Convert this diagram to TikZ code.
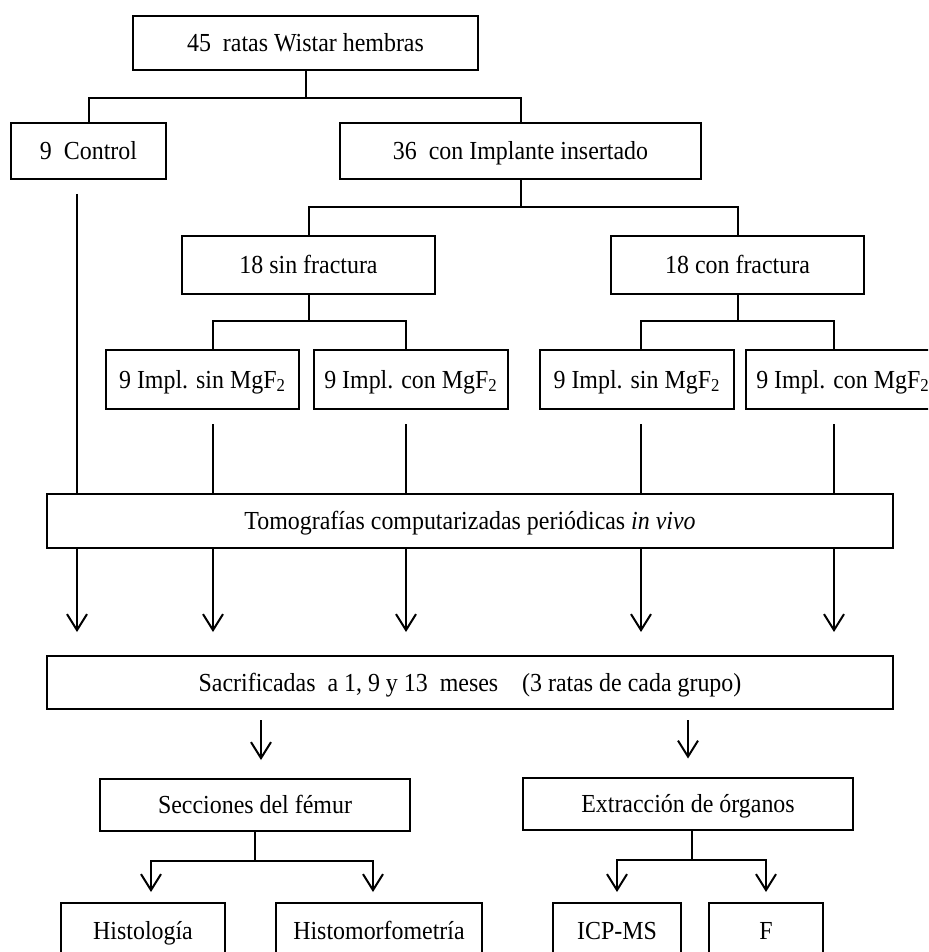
\documentclass[tikz,border=0pt]{standalone}
\usepackage{fontspec}
\setmainfont{Liberation Serif}[FakeStretch=0.92]
\usetikzlibrary{arrows.meta}

\begin{document}
\begin{tikzpicture}[x=0.5pt,y=-0.5pt,
    caja/.style={draw,line width=1pt,rectangle,inner sep=0pt,text height=8.6pt,text depth=0pt,font=\fontsize{13}{15}\selectfont},
    linea/.style={line width=1pt},
    flecha/.style={line width=1pt,-{Straight Barb[length=8pt,width=10pt,line width=1pt]}}]
    \useasboundingbox (0,0) rectangle (928,952);
    \clip (0,0) rectangle (928,952);
    % columnas de las lineas verticales
    \coordinate (k1) at (77,0);
    \coordinate (k2) at (213,0);
    \coordinate (k3) at (406,0);
    \coordinate (k4) at (641,0);
    \coordinate (k5) at (834,0);
    % cajas
    \node[caja,minimum width=172.5pt,minimum height=27pt] (ratas) at (305.5,43) {45~~ratas Wistar hembras};
    \node[caja,minimum width=77.5pt,minimum height=28pt] (ctrl) at (88.5,151) {9~~Control};
    \node[caja,minimum width=180.5pt,minimum height=28pt] (impl) at (520.5,151) {36~~con Implante insertado};
    \node[caja,minimum width=126.5pt,minimum height=29pt] (sinf) at (308.5,265) {18 sin fractura};
    \node[caja,minimum width=126.5pt,minimum height=29pt] (conf) at (737.5,265) {18 con fractura};
    \node[caja,minimum width=96.5pt,minimum height=29.5pt] (b1) at (202.5,379.5) {9 Impl. sin MgF\textsubscript{2}};
    \node[caja,minimum width=97pt,minimum height=29.5pt] (b2) at (411,379.5) {9 Impl. con MgF\textsubscript{2}};
    \node[caja,minimum width=97pt,minimum height=29.5pt] (b3) at (637,379.5) {9 Impl. sin MgF\textsubscript{2}};
    \node[caja,minimum width=97pt,minimum height=29.5pt] (b4) at (843,379.5) {9 Impl. con MgF\textsubscript{2}};
    \node[caja,minimum width=423pt,minimum height=27pt] (tomo) at (470,521) {Tomografías computarizadas periódicas \textit{in vivo}};
    \node[caja,minimum width=423pt,minimum height=26.5pt] (sacr) at (470,682.5) {Sacrificadas~~a 1, 9 y 13~~meses~~~~(3 ratas de cada grupo)};
    \node[caja,minimum width=155pt,minimum height=26pt] (secc) at (255,805) {Secciones del fémur};
    \node[caja,minimum width=165pt,minimum height=26pt] (extr) at (688,803.5) {Extracción de órganos};
    \node[caja,minimum width=82pt,minimum height=27.5pt] (hist) at (143,930.5) {Histología};
    \node[caja,minimum width=103pt,minimum height=27.5pt] (histm) at (379,930.5) {Histomorfometría};
    \node[caja,minimum width=64pt,minimum height=27.5pt] (icp) at (617,930.5) {ICP-MS};
    \node[caja,minimum width=57pt,minimum height=27.5pt] (ff) at (766,930.5) {F};
    % arbol superior
    \draw[linea] (ratas.south) -- ++(0,27) coordinate (r1) -| (ctrl.north);
    \draw[linea] (r1) -| (impl.north);
    \draw[linea] (impl.south) -- ++(0,27) coordinate (r2) -| (sinf.north);
    \draw[linea] (r2) -| (conf.north);
    \draw[linea] (sinf.south) -- ++(0,26) coordinate (r3);
    \draw[linea] (k2 |- b1.north) |- (r3) -| (k3 |- b2.north);
    \draw[linea] (conf.south) -- ++(0,26) coordinate (r4);
    \draw[linea] (k4 |- b3.north) |- (r4) -| (k5 |- b4.north);
    % hacia las tomografias
    \draw[linea,shorten <=7pt] (k1 |- ctrl.south) -- (k1 |- tomo.north);
    \draw[linea,shorten <=7pt] (k2 |- b1.south) -- (k2 |- tomo.north);
    \draw[linea,shorten <=7pt] (k3 |- b2.south) -- (k3 |- tomo.north);
    \draw[linea,shorten <=7pt] (k4 |- b3.south) -- (k4 |- tomo.north);
    \draw[linea,shorten <=7pt] (k5 |- b4.south) -- (k5 |- tomo.north);
    \foreach \k in {k1,k2,k3,k4,k5}
    \draw[flecha,shorten >=11.5pt] (\k |- tomo.south) -- (\k |- sacr.north);
    % sacrificio
    \draw[flecha,shorten <=5pt,shorten >=9pt] ([xshift=3pt]secc.north |- sacr.south) -- ([xshift=3pt]secc.north);
    \draw[flecha,shorten <=5pt,shorten >=9pt] (extr.north |- sacr.south) -- (extr.north);
    \draw[linea] (secc.south) -- ++(0,29) coordinate (r5);
    \draw[flecha,shorten >=5pt] (r5) -| ([xshift=4pt]hist.north);
    \draw[flecha,shorten >=5pt] (r5) -| ([xshift=-3pt]histm.north);
    \draw[linea] ([xshift=2pt]extr.south) -- ++(0,29) coordinate (r6);
    \draw[flecha,shorten >=5pt] (r6) -| (icp.north);
    \draw[flecha,shorten >=5pt] (r6) -| (ff.north);
\end{tikzpicture}
\end{document}
